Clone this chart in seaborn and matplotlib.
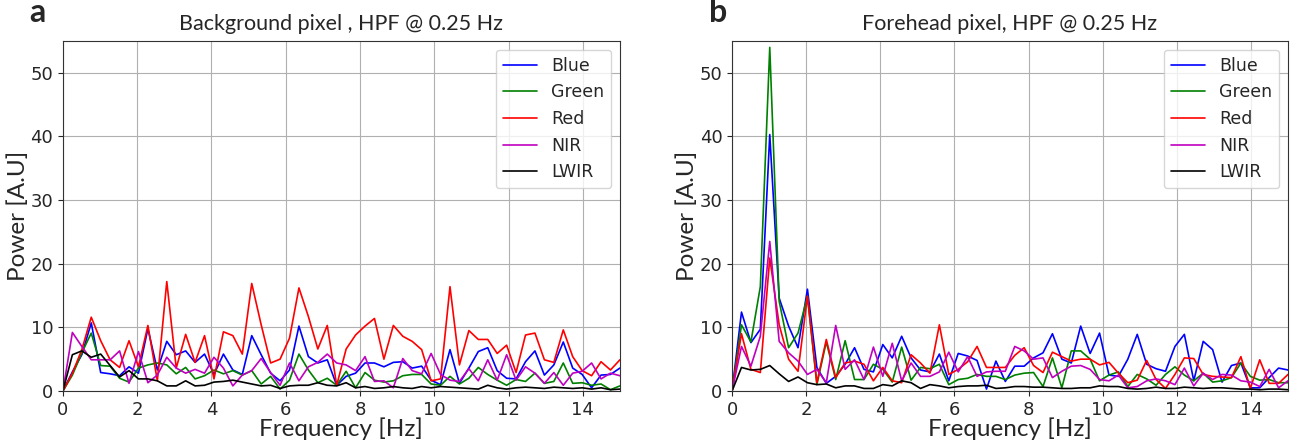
import pandas as pd
import matplotlib
matplotlib.use("Agg")
import matplotlib.pyplot as plt
import numpy as np
import seaborn as sns

# ---- data: power spectra, 60 FFT bins (0 .. 15 Hz) ----
channels = ["Blue", "Green", "Red", "NIR", "LWIR"]
colors = ["b", "g", "r", "m", "k"]

# (a) background pixel
bg_blue = [0, 3.0, 5.7, 10.7, 2.9, 2.7, 2.4, 3.8, 2.8, 9.8, 3.3, 7.8, 5.7, 6.3, 4.5, 5.8, 2.6, 5.8, 3.3, 2.6,
           8.7, 5.7, 2.8, 1.6, 3.3, 10.2, 5.4, 4.4, 4.9, 0.9, 2.3, 2.8, 4.4, 4.4, 3.8, 4.5, 4.6, 3.6, 3.9, 1.7,
           1.0, 6.5, 1.2, 3.6, 6.2, 6.8, 3.2, 2.0, 1.9, 4.6, 6.3, 2.5, 4.1, 7.7, 3.6, 2.6, 0.5, 2.5, 2.6, 3.6]
bg_green = [0, 2.5, 6.0, 9.1, 4.0, 3.9, 2.0, 1.4, 3.6, 4.1, 4.4, 4.1, 2.7, 3.7, 1.9, 2.4, 3.3, 2.7, 3.2, 2.5,
            3.2, 1.1, 2.3, 0.3, 1.7, 5.8, 3.3, 1.3, 2.0, 0.9, 3.1, 0.5, 2.9, 1.7, 1.4, 1.6, 2.4, 2.6, 2.6, 1.1,
            0.9, 2.3, 1.1, 2.0, 3.7, 2.6, 1.7, 0.9, 1.8, 1.5, 2.8, 1.2, 1.5, 4.4, 1.2, 1.3, 0.9, 1.1, 0.2, 0.8]
bg_red = [0, 2.8, 6.5, 11.6, 7.9, 4.9, 3.7, 7.9, 3.8, 10.3, 1.6, 17.2, 3.6, 8.9, 4.5, 8.7, 1.9, 9.3, 8.7, 5.8,
          16.9, 10.4, 4.4, 5.0, 8.3, 16.2, 11.7, 6.6, 10.3, 0.9, 6.6, 8.8, 10.2, 11.4, 5.0, 10.3, 8.6, 7.8, 6.5, 1.6,
          1.9, 16.4, 4.1, 9.5, 8.1, 8.1, 5.9, 7.2, 2.9, 8.8, 9.1, 4.9, 4.5, 9.6, 5.4, 3.2, 2.4, 4.6, 3.3, 4.9]
bg_nir = [0, 9.2, 7.0, 4.9, 4.9, 4.9, 6.3, 1.2, 6.2, 1.3, 2.5, 5.3, 3.6, 2.8, 3.4, 2.8, 5.3, 3.6, 0.8, 2.5,
          3.2, 5.1, 2.9, 0.9, 4.4, 1.6, 3.8, 4.5, 5.8, 4.4, 4.1, 3.2, 5.4, 1.5, 1.6, 0.5, 5.1, 3.2, 2.7, 5.9,
          2.6, 1.7, 1.5, 3.5, 1.6, 4.9, 1.7, 5.7, 1.7, 3.8, 2.8, 1.2, 2.9, 0.9, 2.8, 3.1, 4.4, 1.9, 2.8, 2.4]
bg_lwir = [0, 5.7, 6.3, 5.3, 5.8, 4.0, 2.2, 3.2, 1.9, 1.9, 1.6, 0.8, 0.8, 1.6, 0.8, 0.9, 1.4, 1.5, 1.7, 1.4,
           1.1, 0.8, 0.9, 0.4, 0.8, 0.9, 0.9, 1.3, 0.9, 0.8, 1.3, 0.5, 0.7, 0.4, 0.5, 0.7, 0.5, 0.4, 0.7, 0.5,
           0.7, 0.6, 0.5, 0.4, 0.3, 0.9, 0.5, 0.3, 0.5, 0.6, 0.5, 0.4, 0.6, 0.5, 0.4, 0.5, 0.3, 0.5, 0.2, 0.3]

# (b) forehead pixel
fh_blue = [0, 12.4, 7.6, 9.7, 40.3, 14.6, 10.2, 6.8, 16.0, 3.7, 1.2, 2.3, 4.2, 6.8, 3.4, 3.0, 7.3, 5.2, 8.6, 5.2,
           3.3, 3.0, 5.8, 1.6, 5.9, 5.5, 4.8, 0.3, 4.7, 1.5, 3.9, 3.9, 5.2, 6.0, 9.0, 5.0, 4.4, 10.2, 5.9, 9.1,
           2.5, 2.3, 5.0, 8.9, 4.2, 3.5, 3.1, 7.0, 8.9, 1.6, 7.8, 6.5, 1.4, 4.0, 4.4, 0.5, 0.5, 2.1, 3.6, 3.3]
fh_green = [0, 10.4, 7.7, 16.4, 54.0, 14.1, 6.8, 9.1, 14.9, 1.0, 7.7, 1.8, 7.9, 1.8, 1.8, 4.2, 3.4, 1.4, 6.9, 1.7,
            3.7, 3.5, 4.2, 1.0, 1.8, 2.0, 2.6, 2.3, 2.3, 1.8, 2.5, 2.8, 2.9, 0.7, 5.2, 0.5, 6.3, 6.3, 5.0, 1.6,
            2.5, 3.0, 0.7, 2.6, 1.9, 0.9, 2.6, 3.8, 2.5, 1.6, 2.8, 1.4, 1.6, 2.1, 4.4, 2.3, 1.7, 1.8, 1.3, 1.3]
fh_red = [0, 9.0, 3.4, 2.9, 20.9, 10.4, 5.0, 3.1, 14.9, 1.3, 8.1, 2.1, 4.4, 4.7, 4.2, 1.6, 3.7, 1.6, 1.3, 5.7,
          4.4, 2.8, 10.4, 2.6, 3.4, 4.6, 7.0, 3.7, 3.7, 3.7, 5.6, 6.8, 4.0, 2.9, 6.1, 5.4, 4.7, 5.0, 5.0, 4.1,
          4.5, 2.8, 1.3, 1.7, 4.8, 1.8, 0.4, 2.6, 5.2, 5.1, 2.6, 2.3, 2.2, 2.1, 5.4, 0.4, 4.9, 1.2, 1.2, 2.6]
fh_nir = [0, 7.0, 3.9, 8.6, 23.5, 7.8, 6.0, 4.7, 2.6, 3.4, 1.3, 10.3, 3.4, 4.9, 1.8, 6.9, 2.3, 7.5, 1.6, 4.4,
          2.3, 2.3, 3.0, 6.1, 3.0, 5.4, 2.3, 3.0, 3.1, 3.1, 7.0, 6.3, 5.0, 5.2, 2.1, 3.1, 3.9, 4.0, 3.4, 1.8,
          1.6, 2.5, 0.5, 0.7, 1.6, 1.9, 1.6, 1.0, 3.6, 0.8, 2.8, 1.8, 2.6, 2.5, 1.6, 1.4, 0.7, 3.4, 0.5, 1.6]
fh_lwir = [0, 3.7, 3.3, 3.4, 4.0, 2.7, 1.5, 2.2, 1.3, 1.0, 1.1, 0.5, 0.8, 0.8, 0.4, 0.4, 1.0, 0.8, 1.6, 1.3,
           0.4, 1.0, 0.8, 0.5, 0.7, 0.8, 0.8, 0.9, 0.4, 0.5, 0.7, 0.7, 0.6, 0.6, 0.5, 0.4, 0.4, 0.5, 0.5, 0.8,
           0.7, 0.7, 0.4, 0.3, 0.4, 0.6, 0.4, 0.4, 0.6, 0.5, 0.4, 0.5, 0.5, 0.4, 0.3, 0.3, 0.2, 0.3, 0.3, 0.2]

# FFT bin spacing: 30 fps, 118 samples -> ~0.254 Hz
freq = np.arange(len(bg_blue)) * 30 / 118


def long_form(series):
    return pd.DataFrame({
        "Frequency": np.tile(freq, len(series)),
        "Power": np.concatenate(series),
        "Channel": np.repeat(channels, len(freq)),
    })


panels = [
    ("a", -0.06, "Background pixel , HPF @ 0.25 Hz", long_form([bg_blue, bg_green, bg_red, bg_nir, bg_lwir])),
    ("b", -0.042, "Forehead pixel, HPF @ 0.25 Hz", long_form([fh_blue, fh_green, fh_red, fh_nir, fh_lwir])),
]

sns.set_style("white")
plt.rcParams["font.family"] = ["DejaVu Sans"]
label_font = ["Lato", "DejaVu Sans"]

fig = plt.figure(figsize=(12.95, 4.43), dpi=100)
axes = [fig.add_axes([0.0486, 0.1174, 0.4301, 0.790]),
        fig.add_axes([0.5653, 0.1174, 0.4293, 0.790])]

for ax, (letter, lx, title, df) in zip(axes, panels):
    sns.lineplot(data=df, x="Frequency", y="Power", hue="Channel", palette=colors,
                 hue_order=channels, linewidth=1.2, errorbar=None, ax=ax)
    ax.set_xlim(0, 15)
    ax.set_ylim(0, 55)
    ax.set_xticks(range(0, 15, 2))
    ax.set_yticks(range(0, 51, 10))
    ax.tick_params(labelsize=13, length=3.5, width=0.8, bottom=True, left=True)
    ax.grid(True, color="#b0b0b0", linewidth=0.8)
    for s in ax.spines.values():
        s.set_color("#333333")
        s.set_linewidth(0.8)
    ax.set_xlabel("Frequency [Hz]", fontsize=17.5, family=label_font, labelpad=-1)
    ax.set_ylabel("Power [A.U]", fontsize=17.5, family=label_font, labelpad=1)
    ax.set_title(title, fontsize=15.5, family=label_font, pad=8)
    ax.text(lx, 1.04, letter, transform=ax.transAxes, fontsize=23,
            fontweight="bold", family=label_font, va="bottom", ha="left")
    ax.legend(loc="upper right", fontsize=12.5, frameon=True, title=None)

fig.savefig("out.png", dpi=100)
